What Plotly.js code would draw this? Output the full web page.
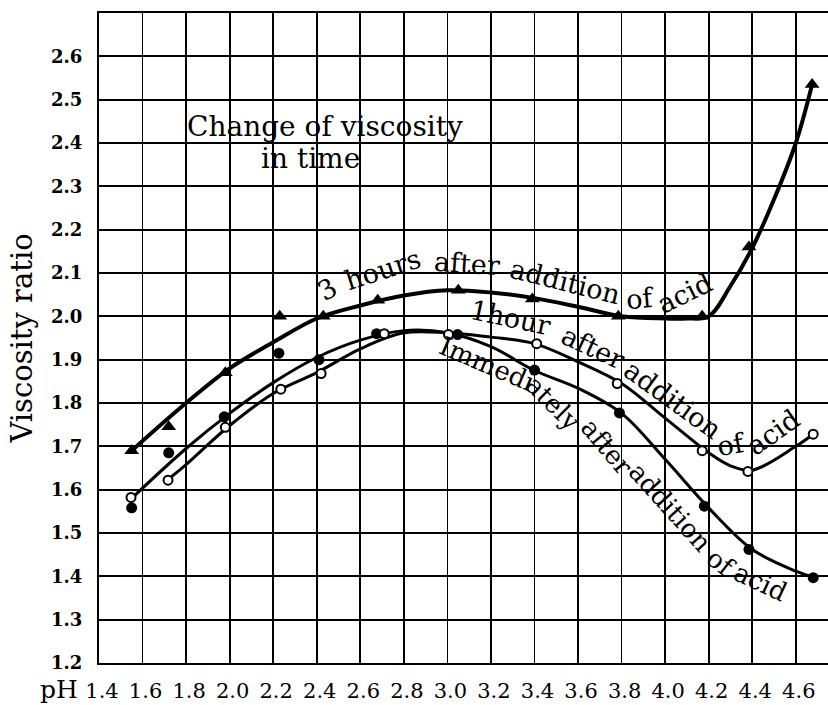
<!DOCTYPE html>
<html>
<head>
<meta charset="utf-8">
<script src="https://cdn.plot.ly/plotly-3.0.1.min.js"></script>
<style>
  html, body { margin: 0; padding: 0; background: #fff; }
  #chart { width: 828px; height: 705px; }
</style>
</head>
<body>
<div id="chart"></div>
<script>
// ---- tick labels ----
const xTicks = [1.4, 1.6, 1.8, 2.0, 2.2, 2.4, 2.6, 2.8, 3.0, 3.2, 3.4, 3.6, 3.8, 4.0, 4.2, 4.4, 4.6];
const xTickText = ["1.4","1.6","1.8","2.0","2.2","2.4","2.6","2.8","3.0","3.2","3.4","3.6","3.8","4.0","4.2","4.4","4.6"];
const yTicks = [1.2, 1.3, 1.4, 1.5, 1.6, 1.7, 1.8, 1.9, 2.0, 2.1, 2.2, 2.3, 2.4, 2.5, 2.6];
const yTickText = ["1.2","1.3","1.4","1.5","1.6","1.7","1.8","1.9","2.0","2.1","2.2","2.3","2.4","2.5","2.6"];

// ---- measured points ----
// 3 hours after addition of acid (triangles)
const hr3X = [1.55, 1.72, 1.98, 2.23, 2.43, 2.68, 3.05, 3.39, 3.785, 4.17, 4.385, 4.675];
const hr3Y = [1.69, 1.745, 1.87, 2.0, 2.0, 2.037, 2.06, 2.04, 2.0, 2.0, 2.16, 2.535];
// 1 hour after addition of acid (open circles)
const hr1X = [1.547, 1.717, 1.98, 2.235, 2.42, 2.71, 3.005, 3.41, 3.78, 4.17, 4.38, 4.68];
const hr1Y = [1.582, 1.622, 1.744, 1.832, 1.868, 1.96, 1.958, 1.937, 1.845, 1.69, 1.642, 1.728];
// Immediately after addition of acid (filled circles)
const immX = [1.55, 1.72, 1.975, 2.226, 2.41, 2.675, 3.047, 3.40, 3.79, 4.18, 4.385, 4.68];
const immY = [1.558, 1.685, 1.768, 1.915, 1.90, 1.96, 1.958, 1.876, 1.777, 1.562, 1.462, 1.397];

// ---- hand-drawn smoothing curves ----
const hr3CurveX = [1.55, 1.8, 2.0, 2.2, 2.4, 2.6, 2.8, 3.0, 3.2, 3.4, 3.6, 3.8, 4.0, 4.1, 4.2, 4.3, 4.4, 4.5, 4.6, 4.675];
const hr3CurveY = [1.69, 1.80, 1.88, 1.94, 1.995, 2.025, 2.048, 2.06, 2.055, 2.042, 2.022, 2.0, 1.995, 1.995, 2.0, 2.07, 2.158, 2.27, 2.40, 2.535];
const hr1CurveX = [1.72, 1.8, 2.0, 2.2, 2.4, 2.6, 2.8, 3.0, 3.2, 3.4, 3.6, 3.8, 4.0, 4.2, 4.3, 4.4, 4.6, 4.68];
const hr1CurveY = [1.625, 1.658, 1.748, 1.822, 1.87, 1.925, 1.962, 1.962, 1.952, 1.937, 1.895, 1.845, 1.765, 1.685, 1.655, 1.645, 1.700, 1.728];
const immCurveX = [1.55, 1.8, 2.0, 2.2, 2.4, 2.6, 2.8, 3.0, 3.2, 3.4, 3.6, 3.8, 4.0, 4.2, 4.4, 4.6, 4.68];
const immCurveY = [1.58, 1.695, 1.776, 1.847, 1.905, 1.945, 1.967, 1.962, 1.93, 1.875, 1.834, 1.776, 1.67, 1.558, 1.462, 1.412, 1.398];

const FONT = "DejaVu Serif, Liberation Serif, serif";
const INK = "#000";

const traces = [
  {x: hr3CurveX, y: hr3CurveY, mode: "lines", line: {color: INK, width: 4, shape: "spline", smoothing: 1}, hoverinfo: "skip"},
  {x: hr1CurveX, y: hr1CurveY, mode: "lines", line: {color: INK, width: 3, shape: "spline", smoothing: 1}, hoverinfo: "skip"},
  {x: immCurveX, y: immCurveY, mode: "lines", line: {color: INK, width: 3, shape: "spline", smoothing: 1}, hoverinfo: "skip"},
  {x: hr3X, y: hr3Y, mode: "markers", name: "3 hours after addition of acid",
   marker: {symbol: "triangle-up", size: 13, color: INK, line: {width: 0}}},
  {x: immX, y: immY, mode: "markers", name: "Immediately after addition of acid",
   marker: {symbol: "circle", size: 11, color: INK, line: {width: 0}}},
  {x: hr1X, y: hr1Y, mode: "markers", name: "1 hour after addition of acid",
   marker: {symbol: "circle", size: 9, color: "#fff", line: {color: INK, width: 2}}}
];

// pixel -> paper helper for text placement
const L = 99, T = 13, W = 729, H = 650;
function ann(text, px, py, angle, size, extra) {
  return Object.assign({
    text: text, xref: "paper", yref: "paper",
    x: (px - L) / W, y: (T + H - py) / H,
    xanchor: "center", yanchor: "middle",
    textangle: angle, showarrow: false,
    font: {family: FONT, size: size, color: INK}
  }, extra || {});
}

const S = 27;
const S2 = 26;
const annotations = [
  ann("Change of viscosity", 325, 127, 0, 28),
  ann("in time", 310, 158, 0, 28),
  // 3 hours label
  ann("3", 327, 290, -30, S),
  ann("hours", 383, 270, -18, S),
  ann("after", 467, 263, 4, S),
  ann("addition", 565, 281, 14, S),
  ann("of", 640, 298, -5, S),
  ann("acid", 684, 293, -26, S),
  // 1 hour label
  ann("1hour", 510, 317, 12, S),
  ann("after", 593, 348, 25, S),
  ann("addition", 673, 399, 36, S),
  ann("of", 731, 444, -10, S),
  ann("acid", 773, 433, -35, S),
  // Immediately label
  ann("Immedi", 487, 364, 23, S2),
  ann("ately", 553, 403, 45, S2),
  ann("after", 607, 447, 50, S2),
  ann("addition", 670, 507, 48, S2),
  ann("of", 721, 563, 38, S2),
  ann("acid", 760, 582, 25, S2),
  // x axis name
  ann("pH", 59, 689, 0, 25)
];

const layout = {
  width: 828, height: 705,
  margin: {l: L, r: 0, t: T, b: 705 - T - H, pad: 0},
  paper_bgcolor: "#fff", plot_bgcolor: "#fff",
  showlegend: false,
  xaxis: {
    range: [1.4, 1.4 + W / 217.75],
    tickmode: "array", tickvals: xTicks, ticktext: xTickText,
    showgrid: true, gridcolor: INK, gridwidth: 1.7,
    showline: true, linecolor: INK, linewidth: 2, mirror: true,
    zeroline: false, ticks: "",
    ticklabelstandoff: 8, ticklabelshift: 3,
    tickfont: {family: FONT, size: 21, color: INK}
  },
  yaxis: {
    range: [1.2, 2.7],
    tickmode: "array", tickvals: yTicks, ticktext: yTickText,
    showgrid: true, gridcolor: INK, gridwidth: 1.7,
    showline: true, linecolor: INK, linewidth: 2,
    zeroline: false, ticks: "",
    ticklabelstandoff: 11,
    tickfont: {family: FONT, size: 18, color: INK, weight: "bold"},
    title: {text: "Viscosity ratio", font: {family: FONT, size: 29, color: INK}, standoff: 10}
  },
  annotations: annotations
};

Plotly.newPlot("chart", traces, layout, {displayModeBar: false, staticPlot: true});
</script>
</body>
</html>
